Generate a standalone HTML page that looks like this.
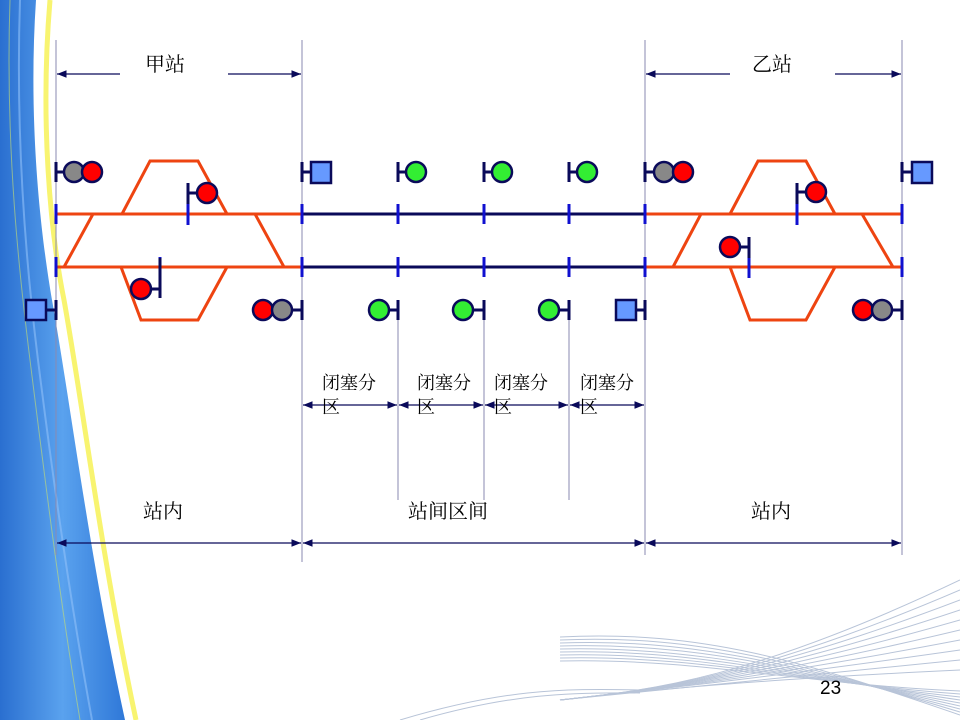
<!DOCTYPE html>
<html><head><meta charset="utf-8"><style>
html,body{margin:0;padding:0;background:#fff}
svg{display:block}
text{font-family:"Liberation Serif","Noto Serif CJK SC",serif}
.num{font-family:"Liberation Sans",sans-serif}
</style></head><body>
<svg width="960" height="720" viewBox="0 0 960 720" xmlns="http://www.w3.org/2000/svg">
<defs>
<linearGradient id="bg" x1="0" y1="0" x2="1" y2="0">
<stop offset="0" stop-color="#2a6fd0"/><stop offset="0.5" stop-color="#5aa2ee"/><stop offset="1" stop-color="#2f78d8"/>
</linearGradient>
<marker id="ar" viewBox="0 0 10 10" refX="10" refY="5" markerWidth="8" markerHeight="8" orient="auto-start-reverse"><path d="M0,1 L10,5 L0,9z" fill="#0a0a5a"/></marker>
</defs>
<path d="M0,0 L36,0 C28,120 40,230 52,300 C70,400 90,560 125,720 L0,720Z" fill="url(#bg)"/>
<path d="M44,0 C34,120 44,230 58,300 C76,400 96,560 130,720" fill="none" stroke="#fff" stroke-width="6"/>
<path d="M50,0 C40,120 50,230 64,300 C82,400 102,560 136,720" fill="none" stroke="#f8f470" stroke-width="5"/>
<path d="M10,0 C5,150 20,280 30,360 C45,480 60,600 80,720" fill="none" stroke="#c8e070" stroke-width="1" opacity="0.6"/>
<path d="M20,0 C15,150 28,280 38,360 C53,480 70,600 92,720" fill="none" stroke="#8fc0f8" stroke-width="2" opacity="0.6"/>
<g fill="none" stroke="#b8c4d8" stroke-width="1">
<path d="M560,637 C700,630 800,660 960,715"/>
<path d="M560,640 C700,634 800,664 960,712"/>
<path d="M560,643 C700,638 800,668 960,709"/>
<path d="M560,646 C700,642 800,671 960,706"/>
<path d="M560,649 C700,646 800,674 960,703"/>
<path d="M560,652 C700,649 800,677 960,700"/>
<path d="M560,655 C700,652 800,680 960,697"/>
<path d="M560,658 C700,655 800,682 960,694"/>
<path d="M560,661 C700,658 800,684 960,691"/>
<path d="M560,700 C650,690 750,680 960,580"/>
<path d="M560,700 C650,690 750,680 960,590"/>
<path d="M560,700 C650,690 750,680 960,600"/>
<path d="M560,700 C650,690 750,680 960,610"/>
<path d="M560,700 C650,690 750,680 960,620"/>
<path d="M560,700 C650,690 750,680 960,630"/>
<path d="M560,700 C650,690 750,680 960,640"/>
<path d="M560,700 C650,690 750,680 960,650"/>
<path d="M560,700 C650,690 750,680 960,660"/>
<path d="M560,700 C650,690 750,680 960,670"/>
<path d="M400,720 C500,690 560,688 640,690"/>
<path d="M420,720 C510,694 570,692 640,693"/>
</g>
<text class="num" x="820" y="694" font-size="19" fill="#000">23</text>

<g stroke="#8a8ab0" stroke-width="1">
<line x1="56" y1="40" x2="56" y2="555"/><line x1="302" y1="40" x2="302" y2="562"/>
<line x1="645" y1="40" x2="645" y2="555"/><line x1="902" y1="40" x2="902" y2="555"/>
<line x1="398" y1="300" x2="398" y2="500"/><line x1="484" y1="300" x2="484" y2="500"/><line x1="569" y1="300" x2="569" y2="500"/>
</g>
<g stroke="#0a0a5a" stroke-width="1.2">
<line x1="120" y1="74" x2="57" y2="74" marker-end="url(#ar)"/>
<line x1="228" y1="74" x2="301" y2="74" marker-end="url(#ar)"/>
<line x1="730" y1="74" x2="646" y2="74" marker-end="url(#ar)"/>
<line x1="835" y1="74" x2="901" y2="74" marker-end="url(#ar)"/>
<line x1="57" y1="543" x2="301" y2="543" marker-start="url(#ar)" marker-end="url(#ar)"/>
<line x1="303" y1="543" x2="644" y2="543" marker-start="url(#ar)" marker-end="url(#ar)"/>
<line x1="646" y1="543" x2="901" y2="543" marker-start="url(#ar)" marker-end="url(#ar)"/>
<line x1="303" y1="405" x2="397" y2="405" marker-start="url(#ar)" marker-end="url(#ar)"/>
<line x1="399" y1="405" x2="483" y2="405" marker-start="url(#ar)" marker-end="url(#ar)"/>
<line x1="485" y1="405" x2="568" y2="405" marker-start="url(#ar)" marker-end="url(#ar)"/>
<line x1="570" y1="405" x2="644" y2="405" marker-start="url(#ar)" marker-end="url(#ar)"/>
</g>
<g font-size="20" fill="#000">
<text x="145" y="71">甲站</text><text x="752" y="71">乙站</text>
<text x="143" y="518">站内</text><text x="408" y="518">站间区间</text><text x="751" y="518">站内</text>
</g>
<g font-size="18" fill="#000">
<text x="322" y="389">闭塞分</text><text x="322" y="413">区</text>
<text x="417" y="389">闭塞分</text><text x="417" y="413">区</text>
<text x="494" y="389">闭塞分</text><text x="494" y="413">区</text>
<text x="580" y="389">闭塞分</text><text x="580" y="413">区</text>
</g>

<g stroke="#0a0a5a" stroke-width="3">
<line x1="302" y1="214" x2="645" y2="214"/><line x1="302" y1="267" x2="645" y2="267"/>
</g>
<g fill="none" stroke="#ee4411" stroke-width="3">
<line x1="56" y1="214" x2="302" y2="214"/><line x1="56" y1="267" x2="302" y2="267"/>
<path d="M122,214 L150,161 L198,161 L227,214"/>
<path d="M93,214 L64,267"/><path d="M255,214 L284,267"/>
<path d="M121,267 L141,320 L198,320 L227,267"/>
<line x1="645" y1="214" x2="902" y2="214"/><line x1="645" y1="267" x2="902" y2="267"/>
<path d="M730,214 L758,161 L806,161 L835,214"/>
<path d="M701,214 L673,267"/><path d="M862,214 L893,267"/>
<path d="M730,267 L750,320 L806,320 L835,267"/>
</g>
<g stroke="#1010d0" stroke-width="3">
<line x1="56" y1="204" x2="56" y2="224"/><line x1="56" y1="257" x2="56" y2="277"/>
<line x1="188" y1="204" x2="188" y2="225"/><line x1="160" y1="257" x2="160" y2="278"/>
<line x1="302" y1="204" x2="302" y2="224"/><line x1="302" y1="257" x2="302" y2="277"/>
<line x1="398" y1="204" x2="398" y2="224"/><line x1="398" y1="257" x2="398" y2="277"/>
<line x1="484" y1="204" x2="484" y2="224"/><line x1="484" y1="257" x2="484" y2="277"/>
<line x1="569" y1="204" x2="569" y2="224"/><line x1="569" y1="257" x2="569" y2="277"/>
<line x1="645" y1="204" x2="645" y2="224"/><line x1="645" y1="257" x2="645" y2="277"/>
<line x1="797" y1="204" x2="797" y2="225"/><line x1="749" y1="257" x2="749" y2="278"/>
<line x1="902" y1="204" x2="902" y2="224"/><line x1="902" y1="257" x2="902" y2="277"/>
</g>
<g stroke="#0a0a5a" stroke-width="3" fill="none">
<path d="M56,162 V182 M56,172 H64"/>
<path d="M188,183 V204 M188,193 H197"/>
<path d="M160,258 V298 M160,289 H151"/>
<path d="M302,300 V320 M302,310 H292"/>
<path d="M56,300 V320 M56,310 H46"/>
<path d="M302,162 V182 M302,172 H311"/>
<path d="M398,162 V182 M398,172 H406"/><path d="M484,162 V182 M484,172 H492"/><path d="M569,162 V182 M569,172 H577"/>
<path d="M398,300 V320 M398,310 H389"/><path d="M484,300 V320 M484,310 H473"/><path d="M569,300 V320 M569,310 H559"/>
<path d="M645,300 V320 M645,310 H636"/>
<path d="M645,162 V182 M645,172 H654"/>
<path d="M797,183 V204 M797,192 H806"/>
<path d="M749,237 V258 M749,247 H740"/>
<path d="M902,300 V320 M902,310 H892"/>
<path d="M902,162 V182 M902,172 H912"/>
</g>
<g stroke="#0a0a5a" stroke-width="2.5">
<circle cx="74" cy="172" r="10" fill="#888"/><circle cx="92" cy="172" r="10" fill="#f00"/>
<circle cx="207" cy="193" r="10" fill="#f00"/>
<circle cx="141" cy="289" r="10" fill="#f00"/>
<circle cx="263" cy="310" r="10" fill="#f00"/><circle cx="282" cy="310" r="10" fill="#888"/>
<rect x="26" y="300" width="20" height="20" fill="#6699ff"/>
<rect x="311" y="162" width="20" height="21" fill="#6699ff"/>
<circle cx="416" cy="172" r="10" fill="#33ee33"/><circle cx="502" cy="172" r="10" fill="#33ee33"/><circle cx="587" cy="172" r="10" fill="#33ee33"/>
<circle cx="379" cy="310" r="10" fill="#33ee33"/><circle cx="463" cy="310" r="10" fill="#33ee33"/><circle cx="549" cy="310" r="10" fill="#33ee33"/>
<rect x="616" y="300" width="20" height="20" fill="#6699ff"/>
<circle cx="664" cy="172" r="10" fill="#888"/><circle cx="683" cy="172" r="10" fill="#f00"/>
<circle cx="816" cy="192" r="10" fill="#f00"/>
<circle cx="730" cy="247" r="10" fill="#f00"/>
<circle cx="863" cy="310" r="10" fill="#f00"/><circle cx="882" cy="310" r="10" fill="#888"/>
<rect x="912" y="162" width="20" height="21" fill="#6699ff"/>
</g>
</svg>
</body></html>
